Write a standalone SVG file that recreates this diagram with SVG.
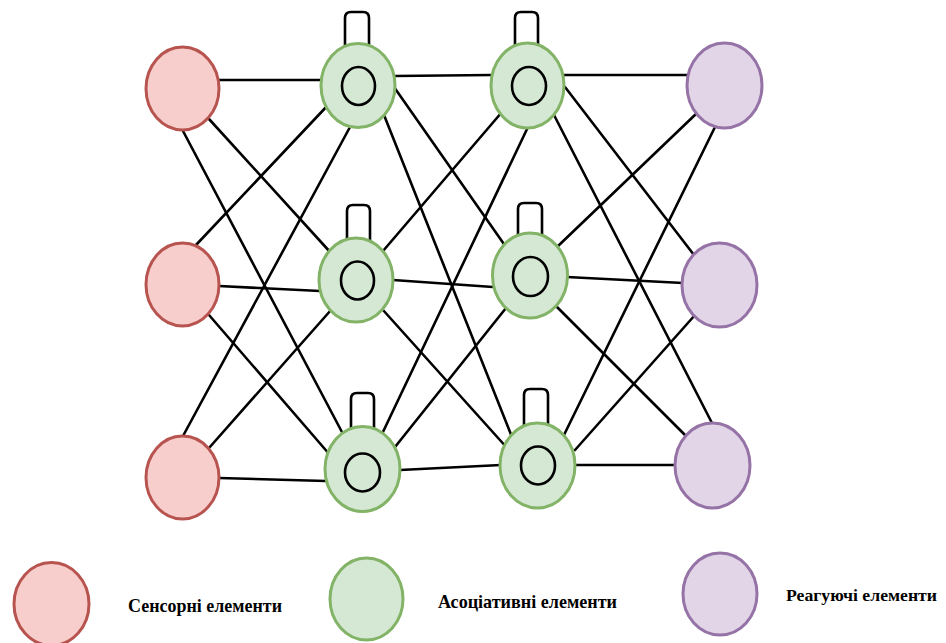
<svg xmlns="http://www.w3.org/2000/svg" width="946" height="643" viewBox="0 0 946 643">
<style>
.e{stroke:#000;stroke-width:2.6;fill:none;stroke-linecap:round}
.s{fill:#f8cecc;stroke:#b85450;stroke-width:3}
.a{fill:#d5e8d4;stroke:#82b366;stroke-width:3}
.r{fill:#e1d5e7;stroke:#9673a6;stroke-width:3}
.in{fill:none;stroke:#000;stroke-width:2.6}
.t{font-family:"Liberation Serif","Times New Roman",serif;font-weight:bold;font-size:19px;fill:#000}
</style>
<rect width="946" height="643" fill="#fff"/>
<g id="connectors" class="e">
<line x1="219" y1="80" x2="322" y2="80"/>
<line x1="209" y1="119" x2="331" y2="253"/>
<line x1="183" y1="131" x2="343" y2="434"/>
<line x1="196" y1="245" x2="329" y2="104"/>
<line x1="219" y1="286" x2="320" y2="291"/>
<line x1="209" y1="315" x2="330" y2="455"/>
<line x1="183" y1="436" x2="350" y2="127"/>
<line x1="209" y1="448" x2="331" y2="310"/>
<line x1="219" y1="478" x2="326" y2="481"/>
<line x1="394" y1="76" x2="492" y2="75"/>
<line x1="394" y1="87" x2="506" y2="247"/>
<line x1="384" y1="115" x2="512" y2="437"/>
<line x1="502" y1="112" x2="383" y2="251"/>
<line x1="393" y1="280" x2="493" y2="287"/>
<line x1="383" y1="310" x2="508" y2="449"/>
<line x1="528" y1="127" x2="382" y2="434"/>
<line x1="506" y1="308" x2="395" y2="447"/>
<line x1="400" y1="470" x2="501" y2="465"/>
<line x1="564" y1="75" x2="688" y2="75"/>
<line x1="565" y1="87" x2="694" y2="255"/>
<line x1="554" y1="115" x2="713" y2="425"/>
<line x1="697" y1="113" x2="557" y2="247"/>
<line x1="567" y1="277" x2="683" y2="283"/>
<line x1="557" y1="307" x2="687" y2="437"/>
<line x1="715" y1="127" x2="563" y2="437"/>
<line x1="695" y1="315" x2="575" y2="450"/>
<line x1="575" y1="465" x2="677" y2="465"/>
<path d="M345,50 V18 Q345,12 351,12 H363 Q369,12 369,18 V50"/>
<path d="M347,244 V211 Q347,205 353,205 H364 Q370,205 370,211 V244"/>
<path d="M351,432 V399 Q351,393 357,393 H368 Q374,393 374,399 V432"/>
<path d="M515,50 V18 Q515,12 521,12 H532 Q538,12 538,18 V50"/>
<path d="M518,240 V209 Q518,203 524,203 H536 Q542,203 542,209 V240"/>
<path d="M524,428 V395 Q524,389 530,389 H542 Q548,389 548,395 V428"/>
</g>
<g id="s1"><ellipse class="s" cx="182.5" cy="88.5" rx="36.5" ry="41.5"/></g>
<g id="s2"><ellipse class="s" cx="182.5" cy="284.5" rx="36.5" ry="41.5"/></g>
<g id="s3"><ellipse class="s" cx="182.5" cy="477.5" rx="36.5" ry="41.5"/></g>
<g id="a1"><ellipse class="a" cx="358" cy="85.5" rx="37" ry="42"/><ellipse class="in" cx="358.5" cy="86" rx="16.5" ry="19"/></g>
<g id="a2"><ellipse class="a" cx="356" cy="280" rx="37" ry="42"/><ellipse class="in" cx="357.5" cy="280.5" rx="16.5" ry="19"/></g>
<g id="a3"><ellipse class="a" cx="362.5" cy="469" rx="37.5" ry="42.5"/><ellipse class="in" cx="362.5" cy="472.5" rx="17.5" ry="19"/></g>
<g id="b1"><ellipse class="a" cx="527.5" cy="85.5" rx="36.5" ry="42.5"/><ellipse class="in" cx="529" cy="86" rx="17" ry="19"/></g>
<g id="b2"><ellipse class="a" cx="530" cy="275.5" rx="37.5" ry="42.5"/><ellipse class="in" cx="530.5" cy="276.5" rx="17.5" ry="19.5"/></g>
<g id="b3"><ellipse class="a" cx="537.5" cy="465.5" rx="37.5" ry="42.5"/><ellipse class="in" cx="538" cy="465.5" rx="17" ry="19"/></g>
<g id="r1"><ellipse class="r" cx="724.5" cy="85.5" rx="37.5" ry="42.5"/></g>
<g id="r2"><ellipse class="r" cx="719.5" cy="285" rx="37.5" ry="42"/></g>
<g id="r3"><ellipse class="r" cx="712.5" cy="465.5" rx="37.5" ry="42.5"/></g>
<g id="legend-sensory"><ellipse class="s" cx="51.5" cy="604" rx="37.5" ry="41.5"/><text class="t" x="128" y="612" textLength="154" lengthAdjust="spacingAndGlyphs">Сенсорні елементи</text></g>
<g id="legend-assoc"><ellipse class="a" cx="366.5" cy="599" rx="36.5" ry="41"/><text class="t" x="438" y="608" textLength="179" lengthAdjust="spacingAndGlyphs">Асоціативні елементи</text></g>
<g id="legend-react"><ellipse class="r" cx="720" cy="594" rx="37" ry="41"/><text class="t" x="786" y="601" style="font-size:17.5px" textLength="151" lengthAdjust="spacingAndGlyphs">Реагуючі елементи</text></g>
</svg>
